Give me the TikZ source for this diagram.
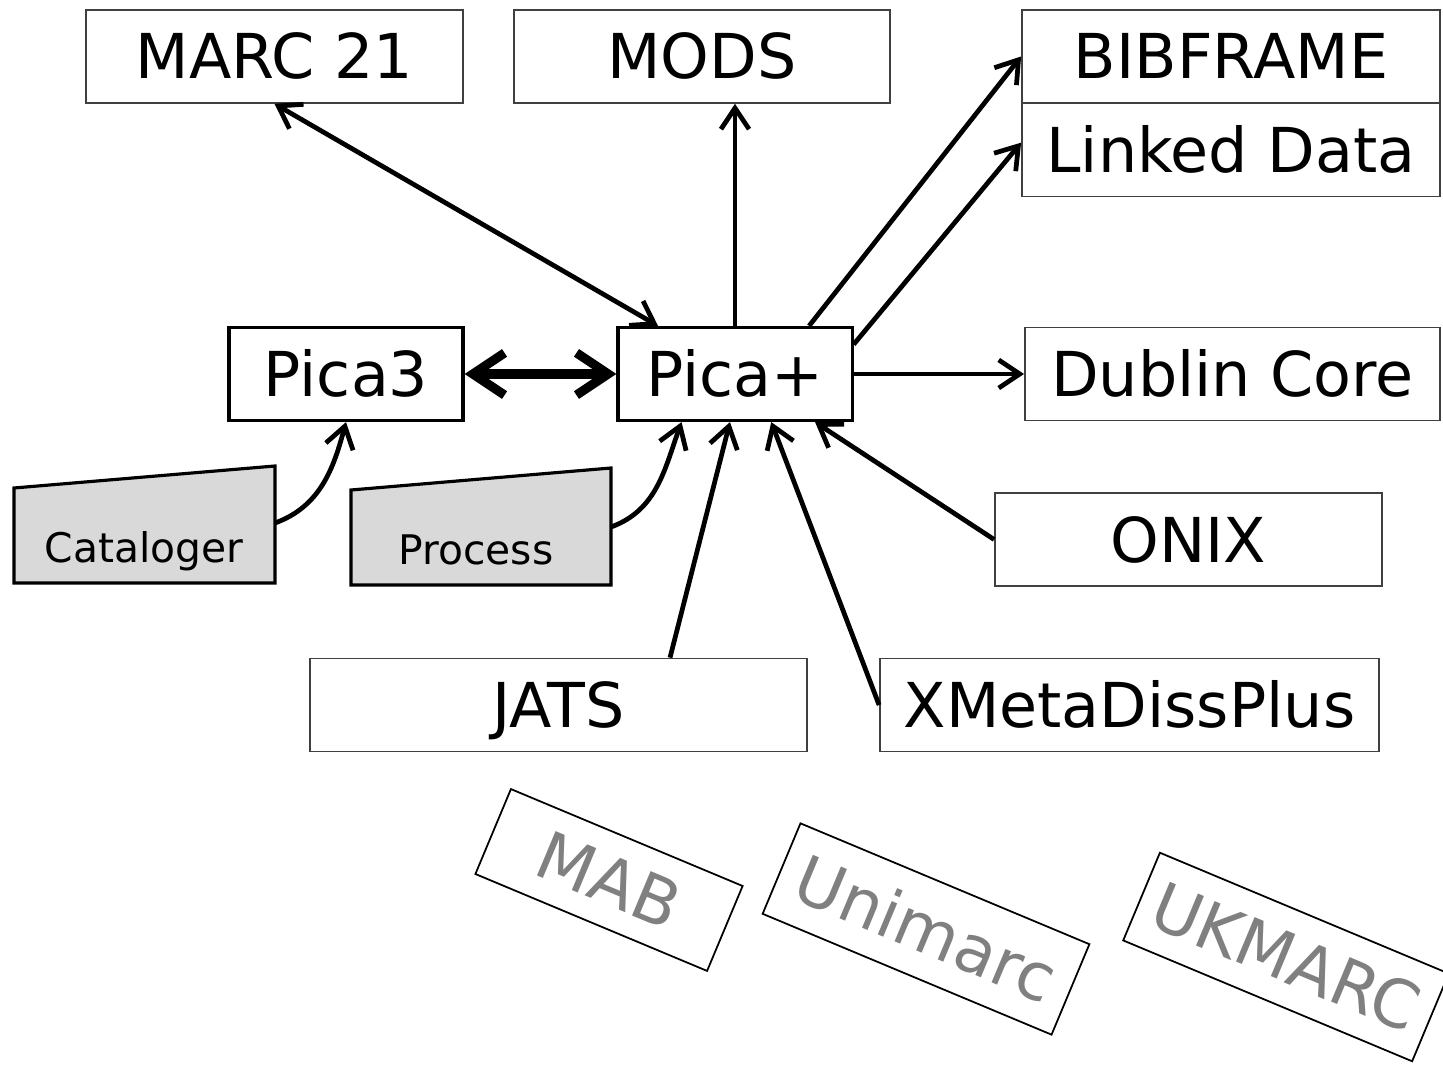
\documentclass[tikz,border=0pt]{standalone}
\usepackage{fontspec}
\setmainfont{DejaVu Sans}
\usetikzlibrary{positioning,arrows.meta}

\begin{document}
\begin{tikzpicture}[x=0.01cm, y=-0.01cm, >={Straight Barb[length=6pt,width=8pt]},
  format/.style={draw=black!75, line width=0.45pt, inner sep=0pt,
    minimum height=0.93cm, text height=0.45cm, text depth=0cm,
    font=\fontsize{17.6}{21}\selectfont},
  pica/.style={format, draw=black, line width=0.9pt, minimum width=2.34cm},
  old format/.style={draw, line width=0.5pt, text=black!50, inner sep=0pt,
    rotate=-22.7, text height=0.48cm, text depth=0cm,
    font=\fontsize{18.8}{22}\selectfont},
  actor/.style={draw, line width=0.9pt, fill=black!15},
  actor text/.style={inner sep=0pt, text height=0.3cm, text depth=0cm,
    font=\fontsize{11.6}{14}\selectfont},
  link/.style={->, line width=1.35pt}]

\useasboundingbox (0,0) rectangle (1443,1068);

\foreach \n/\t/\x/\y/\w in {marc/MARC 21/274.5/56.5/3.77, mods/MODS/702/56.5/3.76,
    bib/BIBFRAME/1231/56.5/4.18, ld/Linked Data/1231/150/4.18,
    dc/Dublin Core/1232.5/374/4.15, onix/ONIX/1188.5/539.5/3.87,
    jats/JATS/558.5/705/4.97, xmd/XMetaDissPlus/1129.5/705/4.99}
  \node [format, minimum width=\w cm] (\n) at (\x,\y) {\t};

\node [pica] (pica3) at (346,374) {Pica3};
\node [pica] (pplus) at (735,374) {Pica+};

% manual input
\draw [actor] (14,488) -- (275,466) -- (275,583) -- (14,583) -- cycle;
\node [actor text] (cat) at (144,547) {Cataloger};
\coordinate (cat-out) at (275,523);
\draw [actor] (351,490) -- (611,468) -- (611,585) -- (351,585) -- cycle;
\node [actor text] (proc) at (476,549) {Process};
\coordinate (proc-out) at (611,527);

% old formats
\node [old format, minimum width=2.51cm, minimum height=0.92cm] (mab) at (609,880) {MAB};
\node [old format, minimum width=3.13cm, minimum height=0.98cm] (unimarc) at (926,929) {Unimarc};
\node [old format, minimum width=3.13cm, minimum height=0.95cm] (ukmarc) at (1286,957) {UKMARC};

\draw [<->, line width=2.6pt, >={Straight Barb[length=9pt,width=12pt]}] (pica3) -- (pplus);

\draw [<->, line width=1.35pt] (marc.south) -- (pplus.148);
\draw [link] (pplus.north) -- (pplus.north |- mods.south);
\draw [link] (pplus.33) -- (bib.west);
\draw [link] (pplus.14) -- (ld.178);
\draw [link] (pplus.east) -- (dc.west);

\draw [link] (onix.west) -- (pplus.329);
\draw [link] (xmd.west) -- (pplus.307);
\draw [link] (jats.23) -- (pplus.264);

\draw [link] (cat-out) to [out=20, in=-105] (pica3.south);
\draw [link] (proc-out) to [out=20, in=-110] (pplus.222);

\end{tikzpicture}
\end{document}
